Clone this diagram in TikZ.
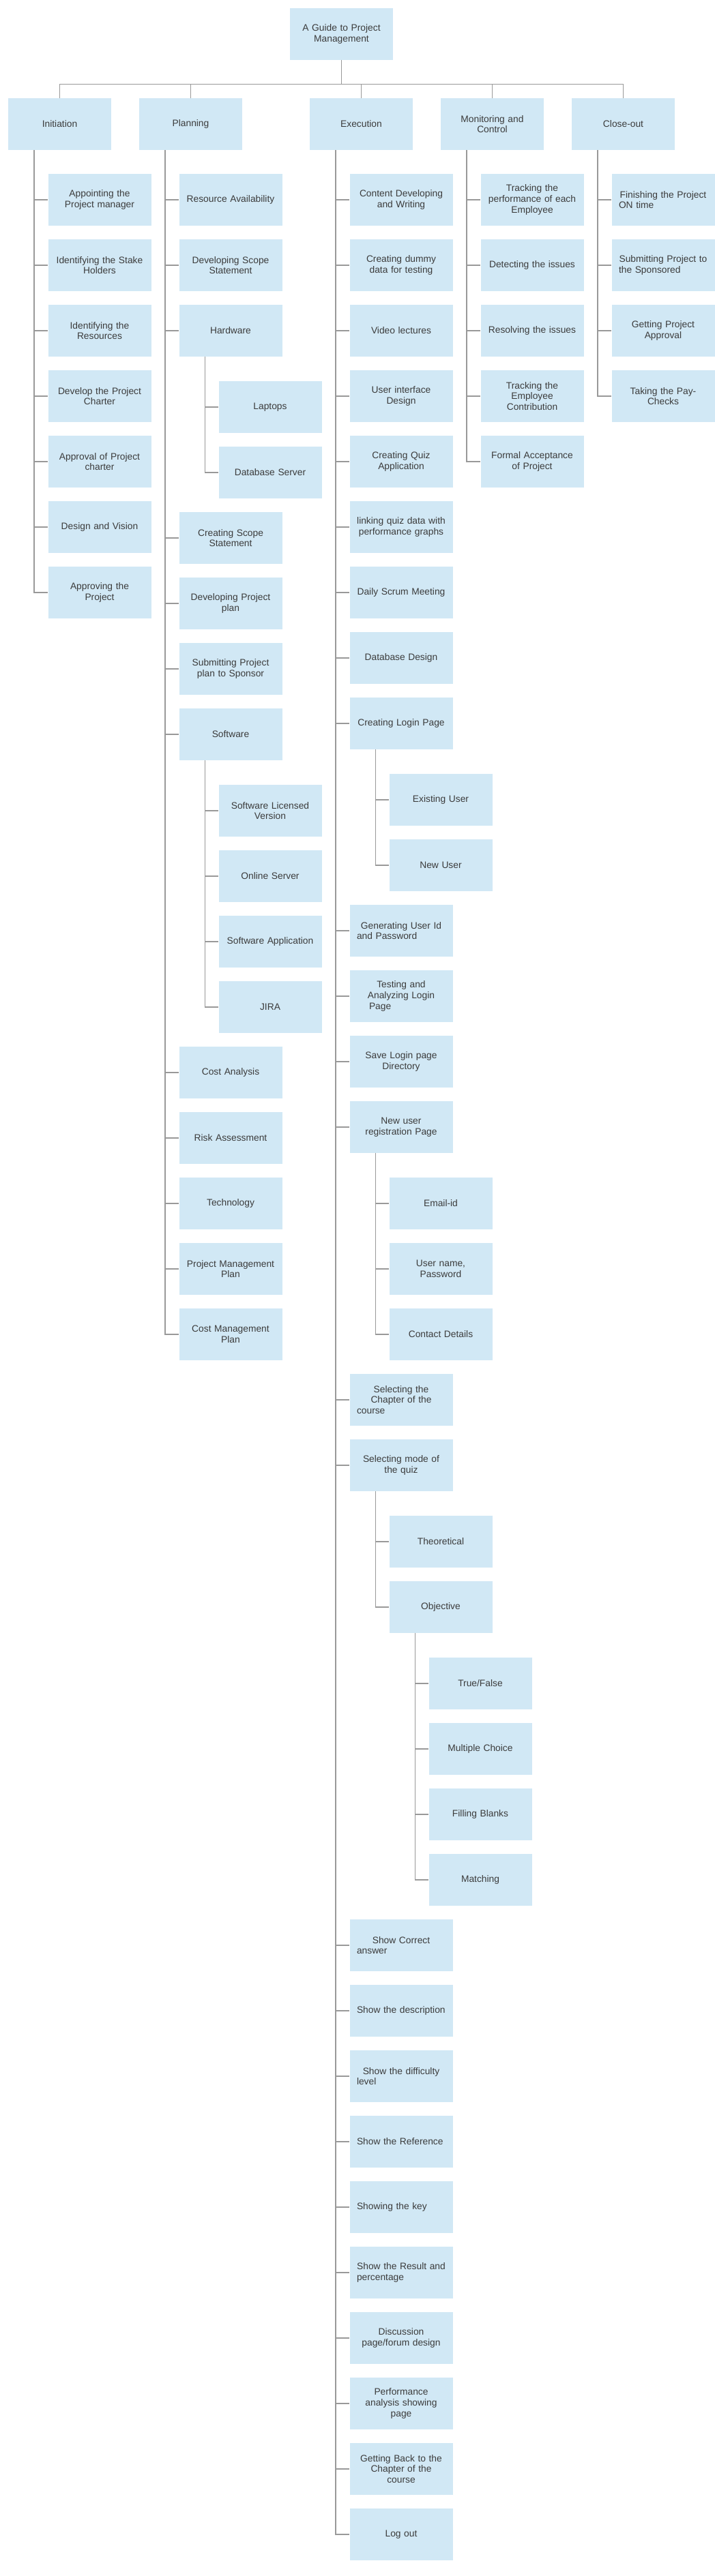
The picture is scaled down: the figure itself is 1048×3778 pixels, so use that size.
\documentclass[tikz,border=0pt]{standalone}
\usepackage{fontspec}
\setmainfont{Liberation Sans}
\definecolor{boxblue}{RGB}{209,232,245}
\definecolor{linegray}{RGB}{153,153,153}
\definecolor{textgray}{RGB}{59,59,59}
\tikzstyle{box}=[rectangle,fill=boxblue,minimum width=151pt,minimum height=76pt,inner sep=0pt,text width=130pt,align=center,text=textgray,font=\fontsize{13.8}{15.8}\selectfont]
\tikzstyle{link}=[draw=linegray,line width=1.5pt]

\begin{document}
\begin{tikzpicture}[x=1pt,y=-1pt]
\useasboundingbox (0,0) rectangle (1048,3778);
\node[box] at (500.5, 50) (root) {A Guide to Project\\Management};
\node[box] at (87.5, 182) (ini) {Initiation};
\node[box] at (279.5, 182) (pla) {Planning};
\node[box] at (529.5, 182) (exe) {Execution};
\node[box] at (721.5, 182) (mon) {Monitoring and\\Control};
\node[box] at (913.5, 182) (clo) {Close-out};
\coordinate (bus) at (500.5, 123.5);
\draw[link] (root.south) -- (bus);
\draw[link] (bus) -| (ini.north);
\draw[link] (bus) -| (pla.north);
\draw[link] (bus) -| (exe.north);
\draw[link] (bus) -| (mon.north);
\draw[link] (bus) -| (clo.north);
% initiation
\node[box] at (146, 293) (ini1) {Appointing the\\Project manager};
\node[box] at (146, 389) (ini2) {Identifying the Stake\\Holders};
\node[box] at (146, 485) (ini3) {Identifying the\\Resources};
\node[box] at (146, 581) (ini4) {Develop the Project\\Charter};
\node[box] at (146, 677) (ini5) {Approval of Project\\charter};
\node[box] at (146, 773) (ini6) {Design and Vision};
\node[box] at (146, 869) (ini7) {Approving the\\Project};
\draw[link] ([xshift=38pt]ini.south west) |- (ini1.west);
\draw[link] ([xshift=38pt]ini.south west) |- (ini2.west);
\draw[link] ([xshift=38pt]ini.south west) |- (ini3.west);
\draw[link] ([xshift=38pt]ini.south west) |- (ini4.west);
\draw[link] ([xshift=38pt]ini.south west) |- (ini5.west);
\draw[link] ([xshift=38pt]ini.south west) |- (ini6.west);
\draw[link] ([xshift=38pt]ini.south west) |- (ini7.west);
% planning
\node[box] at (338, 293) (pla1) {Resource Availability};
\node[box] at (338, 389) (pla2) {Developing Scope\\Statement};
\node[box] at (338, 485) (pla3) {Hardware};
\node[box] at (396, 597) (hw1) {Laptops};
\node[box] at (396, 693) (hw2) {Database Server};
\node[box] at (338, 789) (pla4) {Creating Scope\\Statement};
\node[box] at (338, 885) (pla5) {Developing Project\\plan};
\node[box] at (338, 981) (pla6) {Submitting Project\\plan to Sponsor};
\node[box] at (338, 1077) (pla7) {Software};
\node[box] at (396, 1189) (sw1) {Software Licensed\\Version};
\node[box] at (396, 1285) (sw2) {Online Server};
\node[box] at (396, 1381) (sw3) {Software Application};
\node[box] at (396, 1477) (sw4) {JIRA};
\node[box] at (338, 1573) (pla8) {Cost Analysis};
\node[box] at (338, 1669) (pla9) {Risk Assessment};
\node[box] at (338, 1765) (pla10) {Technology};
\node[box] at (338, 1861) (pla11) {Project Management\\Plan};
\node[box] at (338, 1957) (pla12) {Cost Management\\Plan};
\draw[link] ([xshift=38pt]pla.south west) |- (pla1.west);
\draw[link] ([xshift=38pt]pla.south west) |- (pla2.west);
\draw[link] ([xshift=38pt]pla.south west) |- (pla3.west);
\draw[link] ([xshift=38pt]pla.south west) |- (pla4.west);
\draw[link] ([xshift=38pt]pla.south west) |- (pla5.west);
\draw[link] ([xshift=38pt]pla.south west) |- (pla6.west);
\draw[link] ([xshift=38pt]pla.south west) |- (pla7.west);
\draw[link] ([xshift=38pt]pla.south west) |- (pla8.west);
\draw[link] ([xshift=38pt]pla.south west) |- (pla9.west);
\draw[link] ([xshift=38pt]pla.south west) |- (pla10.west);
\draw[link] ([xshift=38pt]pla.south west) |- (pla11.west);
\draw[link] ([xshift=38pt]pla.south west) |- (pla12.west);
\draw[link] ([xshift=38pt]pla3.south west) |- (hw1.west);
\draw[link] ([xshift=38pt]pla3.south west) |- (hw2.west);
\draw[link] ([xshift=38pt]pla7.south west) |- (sw1.west);
\draw[link] ([xshift=38pt]pla7.south west) |- (sw2.west);
\draw[link] ([xshift=38pt]pla7.south west) |- (sw3.west);
\draw[link] ([xshift=38pt]pla7.south west) |- (sw4.west);
% execution
\node[box] at (588, 293) (exe1) {Content Developing\\and Writing};
\node[box] at (588, 389) (exe2) {Creating dummy\\data for testing};
\node[box] at (588, 485) (exe3) {Video lectures};
\node[box] at (588, 581) (exe4) {User interface\\Design};
\node[box] at (588, 677) (exe5) {Creating Quiz\\Application};
\node[box] at (588, 773) (exe6) {linking quiz data with\\performance graphs};
\node[box] at (588, 869) (exe7) {Daily Scrum Meeting};
\node[box] at (588, 965) (exe8) {Database Design};
\node[box] at (588, 1061) (exe9) {Creating Login Page};
\node[box] at (646, 1173) (log1) {Existing User};
\node[box] at (646, 1269) (log2) {New User};
\node[box] at (588, 1365) (exe10) {Generating User Id\\and Password\hspace*{\fill}};
\node[box] at (588, 1461) (exe11) {Testing and\\Analyzing Login\\\hspace*{18pt}Page\hspace*{\fill}};
\node[box] at (588, 1557) (exe12) {Save Login page\\Directory};
\node[box] at (588, 1653) (exe13) {New user\\registration Page};
\node[box] at (646, 1765) (reg1) {Email-id};
\node[box] at (646, 1861) (reg2) {User name,\\Password};
\node[box] at (646, 1957) (reg3) {Contact Details};
\node[box] at (588, 2053) (exe14) {Selecting the\\Chapter of the\\course\hspace*{\fill}};
\node[box] at (588, 2149) (exe15) {Selecting mode of\\the quiz};
\node[box] at (646, 2261) (mode1) {Theoretical};
\node[box] at (646, 2357) (mode2) {Objective};
\node[box] at (704, 2469) (obj1) {True/False};
\node[box] at (704, 2565) (obj2) {Multiple Choice};
\node[box] at (704, 2661) (obj3) {Filling Blanks};
\node[box] at (704, 2757) (obj4) {Matching};
\node[box] at (588, 2853) (exe16) {Show Correct\\answer\hspace*{\fill}};
\node[box] at (588, 2949) (exe17) {Show the description\hspace*{\fill}};
\node[box] at (588, 3045) (exe18) {Show the difficulty\\level\hspace*{\fill}};
\node[box] at (588, 3141) (exe19) {Show the Reference\hspace*{\fill}};
\node[box] at (588, 3237) (exe20) {Showing the key\hspace*{\fill}};
\node[box] at (588, 3333) (exe21) {Show the Result and\hspace*{\fill}\\percentage\hspace*{\fill}};
\node[box] at (588, 3429) (exe22) {Discussion\\page/forum design};
\node[box] at (588, 3525) (exe23) {Performance\\analysis showing\\page};
\node[box] at (588, 3621) (exe24) {Getting Back to the\\Chapter of the\\course};
\node[box] at (588, 3717) (exe25) {Log out};
\draw[link] ([xshift=38pt]exe.south west) |- (exe1.west);
\draw[link] ([xshift=38pt]exe.south west) |- (exe2.west);
\draw[link] ([xshift=38pt]exe.south west) |- (exe3.west);
\draw[link] ([xshift=38pt]exe.south west) |- (exe4.west);
\draw[link] ([xshift=38pt]exe.south west) |- (exe5.west);
\draw[link] ([xshift=38pt]exe.south west) |- (exe6.west);
\draw[link] ([xshift=38pt]exe.south west) |- (exe7.west);
\draw[link] ([xshift=38pt]exe.south west) |- (exe8.west);
\draw[link] ([xshift=38pt]exe.south west) |- (exe9.west);
\draw[link] ([xshift=38pt]exe.south west) |- (exe10.west);
\draw[link] ([xshift=38pt]exe.south west) |- (exe11.west);
\draw[link] ([xshift=38pt]exe.south west) |- (exe12.west);
\draw[link] ([xshift=38pt]exe.south west) |- (exe13.west);
\draw[link] ([xshift=38pt]exe.south west) |- (exe14.west);
\draw[link] ([xshift=38pt]exe.south west) |- (exe15.west);
\draw[link] ([xshift=38pt]exe.south west) |- (exe16.west);
\draw[link] ([xshift=38pt]exe.south west) |- (exe17.west);
\draw[link] ([xshift=38pt]exe.south west) |- (exe18.west);
\draw[link] ([xshift=38pt]exe.south west) |- (exe19.west);
\draw[link] ([xshift=38pt]exe.south west) |- (exe20.west);
\draw[link] ([xshift=38pt]exe.south west) |- (exe21.west);
\draw[link] ([xshift=38pt]exe.south west) |- (exe22.west);
\draw[link] ([xshift=38pt]exe.south west) |- (exe23.west);
\draw[link] ([xshift=38pt]exe.south west) |- (exe24.west);
\draw[link] ([xshift=38pt]exe.south west) |- (exe25.west);
\draw[link] ([xshift=38pt]exe9.south west) |- (log1.west);
\draw[link] ([xshift=38pt]exe9.south west) |- (log2.west);
\draw[link] ([xshift=38pt]exe13.south west) |- (reg1.west);
\draw[link] ([xshift=38pt]exe13.south west) |- (reg2.west);
\draw[link] ([xshift=38pt]exe13.south west) |- (reg3.west);
\draw[link] ([xshift=38pt]exe15.south west) |- (mode1.west);
\draw[link] ([xshift=38pt]exe15.south west) |- (mode2.west);
\draw[link] ([xshift=38pt]mode2.south west) |- (obj1.west);
\draw[link] ([xshift=38pt]mode2.south west) |- (obj2.west);
\draw[link] ([xshift=38pt]mode2.south west) |- (obj3.west);
\draw[link] ([xshift=38pt]mode2.south west) |- (obj4.west);
% monitoring and control
\node[box] at (780, 293) (mon1) {Tracking the\\performance of each\\Employee};
\node[box] at (780, 389) (mon2) {Detecting the issues};
\node[box] at (780, 485) (mon3) {Resolving the issues};
\node[box] at (780, 581) (mon4) {Tracking the\\Employee\\Contribution};
\node[box] at (780, 677) (mon5) {Formal Acceptance\\of Project};
\draw[link] ([xshift=38pt]mon.south west) |- (mon1.west);
\draw[link] ([xshift=38pt]mon.south west) |- (mon2.west);
\draw[link] ([xshift=38pt]mon.south west) |- (mon3.west);
\draw[link] ([xshift=38pt]mon.south west) |- (mon4.west);
\draw[link] ([xshift=38pt]mon.south west) |- (mon5.west);
% close-out
\node[box] at (972, 293) (clo1) {Finishing the Project\hspace*{\fill}\\ON time\hspace*{\fill}};
\node[box] at (972, 389) (clo2) {Submitting Project to\hspace*{\fill}\\the Sponsored\hspace*{\fill}};
\node[box] at (972, 485) (clo3) {Getting Project\\Approval};
\node[box] at (972, 581) (clo4) {Taking the Pay-\\Checks};
\draw[link] ([xshift=38pt]clo.south west) |- (clo1.west);
\draw[link] ([xshift=38pt]clo.south west) |- (clo2.west);
\draw[link] ([xshift=38pt]clo.south west) |- (clo3.west);
\draw[link] ([xshift=38pt]clo.south west) |- (clo4.west);
\end{tikzpicture}
\end{document}
